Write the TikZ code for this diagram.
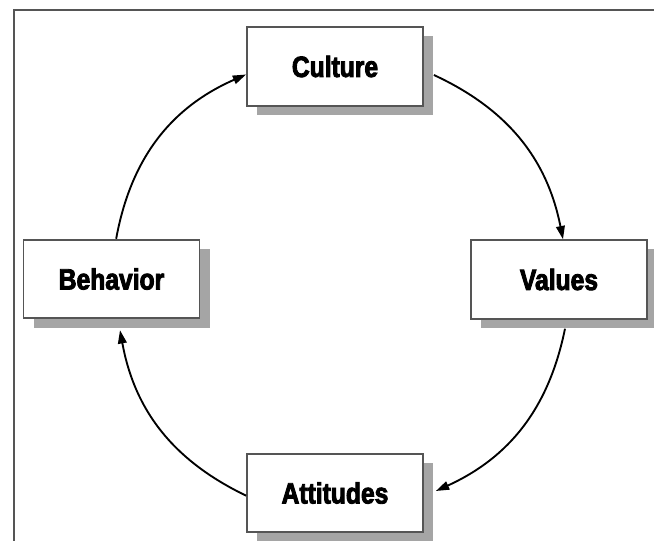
\documentclass[tikz,border=0pt]{standalone}
\usepackage{fontspec}
\newfontfamily\lbl{Liberation Sans}[FakeStretch=0.84,BoldFeatures={FakeBold=3}]
\usetikzlibrary{arrows.meta,shadows}
\definecolor{boxline}{RGB}{85,85,85}
\definecolor{shadowgray}{RGB}{165,165,165}
\tikzset{
  stagebox/.style={draw=boxline, line width=1.3pt, fill=white, inner sep=0pt,
    minimum width=132pt, minimum height=59pt,
    font=\lbl\bfseries\fontsize{22}{24}\selectfont,
    drop shadow={shadow xshift=7.5pt, shadow yshift=-7pt, fill=shadowgray, opacity=1}},
  cycarrow/.style={line width=1.4pt, -{Triangle[length=10pt,width=6.5pt]}},
  framel/.style={draw=boxline, line width=1.5pt}
}
\begin{document}
\begin{tikzpicture}[x=0.75pt,y=-0.75pt]
\useasboundingbox (0,0) rectangle (654,541);
\draw[framel] (13.5,541) -- (13.5,10.5) -- (654,10.5);
\node[stagebox] (culture) at (335,66.5) {Culture};
\node[stagebox] (values) at (559,279.5) {Values};
\node[stagebox] (behavior) at (111.5,279) {Behavior};
\node[stagebox] (attitudes) at (335,493) {Attitudes};
\draw[cycarrow] ([xshift=3.5pt]behavior.north) to[bend left=28] ([yshift=-6pt]culture.west);
\draw[cycarrow] ([shift={(10,8.5)}]culture.east) to[bend left=27] ([xshift=3pt]values.north);
\draw[cycarrow] ([shift={(6,9)}]values.south) to[bend left=27] ([shift={(12,-2)}]attitudes.east);
\draw[cycarrow] ([yshift=-2pt]attitudes.west) to[bend left=27] ([shift={(8.5,11)}]behavior.south);
\end{tikzpicture}
\end{document}
